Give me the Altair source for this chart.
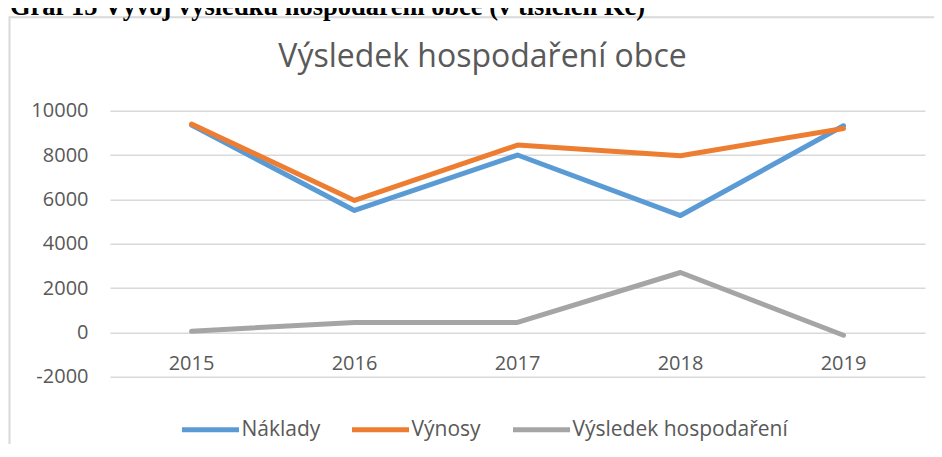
import altair as alt
import pandas as pd

years = ["2015", "2016", "2017", "2018", "2019"]
naklady = [9350, 5500, 8000, 5270, 9320]
vynosy = [9400, 5950, 8450, 7970, 9200]
vysledek = [50, 450, 450, 2700, -130]
series_names = ["Náklady", "Výnosy", "Výsledek hospodaření"]
series_colors = ["#5B9BD5", "#ED7D31", "#A5A5A5"]
y_ticks = [-2000, 0, 2000, 4000, 6000, 8000, 10000]
chart_title = "Výsledek hospodaření obce"
header_text = "Graf 15 Vývoj výsledku hospodaření obce (v tisících Kč)"

rows = []
for name, vals in zip(series_names, [naklady, vynosy, vysledek]):
    for y, v in zip(years, vals):
        rows.append({"rok": y, "rada": name, "hodnota": v})
df = pd.DataFrame(rows)
df_years = pd.DataFrame({"rok": years})

FONT = "Open Sans"
GREY = "#595959"

x_enc = alt.X("rok:N", scale=alt.Scale(type="point", padding=0.5, domain=years), axis=None)
y_scale = alt.Scale(domain=[-2000, 10000], nice=False, zero=False)

lines = alt.Chart(df).mark_line(strokeWidth=5, strokeCap="round", strokeJoin="round").encode(
    x=x_enc,
    y=alt.Y("hodnota:Q", scale=y_scale,
            axis=alt.Axis(values=y_ticks, labelExpr="datum.value + ''", title=None, ticks=False,
                          domain=False, labelPadding=22, labelFont=FONT, labelFontSize=20,
                          labelColor=GREY, grid=True, gridColor="#D9D9D9", gridWidth=1.5)),
    color=alt.Color("rada:N", scale=alt.Scale(domain=series_names, range=series_colors),
                    legend=alt.Legend(title=None, orient="none", direction="horizontal",
                                      legendX=69.5, legendY=288, symbolType="stroke",
                                      symbolSize=3249, symbolStrokeWidth=5, labelOffset=0,
                                      columnPadding=21, labelFont=FONT, labelFontSize=21,
                                      labelColor=GREY, labelLimit=400)),
    order=alt.Order("rok:N"),
)

xlabels = alt.Chart(df_years).mark_text(font=FONT, fontSize=20, color=GREY, baseline="alphabetic",
                                         dy=38).encode(
    x=x_enc,
    y=alt.datum(0),
    text="rok:N",
)

title_df = pd.DataFrame({"t": [chart_title]})
title = alt.Chart(title_df).mark_text(font=FONT, fontSize=32, color=GREY, baseline="alphabetic",
                                      align="center").encode(
    x=alt.value(372.5), y=alt.value(-44), text="t:N")

header_df = pd.DataFrame({"t": [header_text]})
header = alt.Chart(header_df).mark_text(font="Liberation Serif", fontSize=26.5, fontWeight="bold",
                                        color="#000000", baseline="alphabetic", align="left").encode(
    x=alt.value(-100), y=alt.value(-95.7), text="t:N")

border = alt.Chart(header_df).mark_rect(fill="white", fillOpacity=0, stroke="#D9D9D9",
                                        strokeWidth=2).encode(
    x=alt.value(-100.5), x2=alt.value(1000), y=alt.value(-93.5), y2=alt.value(500))

chart = alt.layer(border, header, title, lines, xlabels).properties(
    width=815, height=266,
    padding={"left": 102, "top": 102.7, "right": 9, "bottom": 67},
    autosize=alt.AutoSizeParams(type="none"),
).configure_view(stroke=None)

chart.save("out.html", embed_options={"renderer": "svg", "actions": False})
